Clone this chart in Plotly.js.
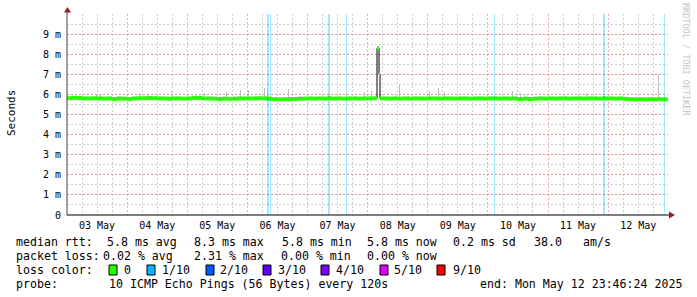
<!DOCTYPE html>
<html><head><meta charset="utf-8">
<script src="https://cdn.plot.ly/plotly-3.0.1.min.js"></script>
<style>html,body{margin:0;padding:0;background:#fff}#chart{width:697px;height:297px}</style>
</head><body><div id="chart"></div>
<script>
// ---- data (time in hours since 03 May 2025 00:00, latency in ms) ----
const dayLabels = ["03 May","04 May","05 May","06 May","07 May","08 May","09 May","10 May","11 May","12 May"];
const dayLabelHours = [12,36,60,84,108,132,156,180,204,228];
const medianStartHour = 0;
const medianStepHours = 2;
const medianMs = [
  5.81,5.83,5.82,5.80,5.80,5.81,5.80,5.79,5.80,5.77,5.80,5.79,
  5.77,5.80,5.81,5.81,5.82,5.81,5.80,5.80,5.78,5.80,5.80,5.79,
  5.80,5.83,5.82,5.80,5.80,5.79,5.77,5.79,5.78,5.79,5.80,5.80,
  5.80,5.80,5.81,5.80,5.79,5.76,5.75,5.76,5.76,5.77,5.79,5.79,
  5.80,5.79,5.80,5.79,5.80,5.79,5.80,5.79,5.80,5.80,5.79,5.80,
  5.80,5.81,5.80,5.80,5.79,5.80,5.79,5.80,5.79,5.80,5.80,5.79,
  5.80,5.80,5.79,5.80,5.80,5.79,5.80,5.80,5.79,5.80,5.80,5.79,
  5.80,5.80,5.79,5.80,5.79,5.80,5.77,5.79,5.77,5.79,5.80,5.79,
  5.80,5.79,5.80,5.80,5.79,5.80,5.80,5.79,5.80,5.80,5.79,5.80,
  5.80,5.79,5.80,5.78,5.76,5.75,5.76,5.75,5.76,5.75,5.76,5.75
];
const spikeHours = [123.75, 124.55, 124.95];
const spikeMs = [8.3, 7.0, 5.80];
const endHour = 239.77;
const smokeHours = [11.86,13.45,28.86,32.46,41.72,52.7,54.69,63.67,69.06,72.38,78.76,80.12,88.34,104.31,111.58,118.56,121.64,132.65,136.25,144.63,148.22,150.5,177.92,180.84,207.19,236.05];
const smokeMaxMs = [6.02,5.99,6.06,5.98,6.15,6.0,6.05,6.12,6.24,6.22,6.3,6.3,6.27,6.05,6.05,6.13,6.18,6.47,5.92,6.18,6.3,6.13,6.18,6.05,6.05,6.97];
const lossHours = [80.05,80.45,81.3,104.4,104.8,111.65,170.6,214.2,214.6,238.4];
const lossFraction = [0.1,0.1,0.1,0.1,0.1,0.1,0.1,0.1,0.1,0.1];
const yTickVals = [0,1,2,3,4,5,6,7,8,9];
const yTickText = ["0","1 m","2 m","3 m","4 m","5 m","6 m","7 m","8 m","9 m"];
const lossLegendLabels = ["0","1/10","2/10","3/10","4/10","5/10","9/10"];
const lossLegendColors = ["#26ff00","#00b8ff","#0059ff","#5e00ff","#7e00ff","#dd00ff","#ff0000"];
const statsRtt = ["median rtt:","5.8 ms avg","8.3 ms max","5.8 ms min","5.8 ms now","0.2 ms sd","38.0","am/s"];
const statsLoss = ["packet loss:","0.02 % avg","2.31 % max","0.00 % min","0.00 % now"];
const probeText = ["probe:","10 ICMP Echo Pings (56 Bytes) every 120s","end: Mon May 12 23:46:24 2025"];

// ---- build merged median series ----
let pts = [];
medianMs.forEach((v,i)=>{
  const t = medianStartHour + i*medianStepHours;
  if (!(t >= spikeHours[0] && t < spikeHours[spikeHours.length-1])) pts.push([t,v]);
});
spikeHours.forEach((t,i)=>pts.push([t,spikeMs[i]]));
pts.sort((a,b)=>a[0]-b[0]);
pts.push([endHour, pts[pts.length-1][1]]);
function medianAt(h){ let v = pts[0][1]; for (const p of pts){ if (p[0] <= h) v = p[1]; } return v; }

const segX = [], segY = [];
for (let i=0;i<pts.length-1;i++){ segX.push(pts[i][0], pts[i+1][0], null); segY.push(pts[i][1], pts[i][1], null); }

const YMAX = 10;
const MONO = "DejaVu Sans Mono";
const traces = [
  { type:'bar', x: lossHours, y: lossHours.map(()=>YMAX), width: 0.4, marker:{color:'rgba(0,184,255,0.35)', line:{width:0}}, hoverinfo:'skip' },
  { type:'bar', x: smokeHours, base: smokeHours.map(h=>medianAt(h)), y: smokeHours.map((h,i)=>smokeMaxMs[i]-medianAt(h)), width: 0.4, marker:{color:'#bdbdbd', line:{width:0}}, hoverinfo:'skip' },
  { type:'scatter', mode:'lines', x: pts.map(p=>p[0]), y: pts.map(p=>p[1]), line:{color:'#000', width:1, shape:'hv'}, hoverinfo:'skip' },
  { type:'scatter', mode:'lines', x: segX, y: segY, line:{color:'#26ff00', width:4}, connectgaps:false, hoverinfo:'skip' },
  { type:'bar', x: lossHours, base: lossHours.map(h=>medianAt(h)-0.1), y: lossHours.map(()=>0.2), width:0.4, marker:{color:'#00b8ff', line:{width:0}}, hoverinfo:'skip' },
  { type:'scatter', x: [], y: [], xaxis:'x2', hoverinfo:'skip' }
];

// pixel -> paper helpers for decorations
const L=67, T=14, W=601, H=201;
const PX = px => (px-L)/W, PY = py => (T+H-py)/H;
const annotations = [];
function txt(text, px, py, size, anchor, extra){
  annotations.push(Object.assign({text, xref:'paper', yref:'paper', x:PX(px), y:PY(py), xanchor:anchor||'left', yanchor:'middle', showarrow:false, borderpad:0, font:{family:MONO, size:size||11.6, color:'#000'}}, extra||{}));
}
const rttX = [15,106,193,281,366,452,533,582];
statsRtt.forEach((s,i)=>txt(s, rttX[i], 242));
const lossX = [15,102,193,280,366];
statsLoss.forEach((s,i)=>txt(s, lossX[i], 256));
txt("loss color:", 15, 270);
const sqX = [109,147,206,263,321,380,437];
const lblX = [123,161,219,277,335,393,452];
const shapes = [];
lossLegendLabels.forEach((s,i)=>{
  txt(s, lblX[i], 270);
  shapes.push({type:'rect', xref:'paper', yref:'paper', x0:PX(sqX[i]), x1:PX(sqX[i]+8), y0:PY(275), y1:PY(265), fillcolor:lossLegendColors[i], line:{color:'#000', width:1}});
});
txt(probeText[0], 15, 284);
txt(probeText[1], 108, 284);
txt(probeText[2], 683, 284, 11.6, 'right');
txt("Seconds", 11, 113, 11, 'center', {textangle:-90});
txt("RRDTOOL / TOBI OETIKER", 686, 59, 8.5, 'center', {textangle:90, font:{family:MONO, size:8.5, color:'#c4c4c4'}});

// axis lines and arrows
shapes.push({type:'line', xref:'paper', yref:'paper', x0:PX(67), x1:PX(67), y0:PY(215), y1:PY(11), line:{color:'#444', width:1}});
shapes.push({type:'line', xref:'paper', yref:'paper', x0:PX(67), x1:PX(670), y0:PY(215), y1:PY(215), line:{color:'#000', width:1}});
shapes.push({type:'path', xref:'paper', yref:'paper', path:`M ${PX(64)} ${PY(12.5)} L ${PX(67.5)} ${PY(7)} L ${PX(71)} ${PY(12.5)} Z`, fillcolor:'#9b1c1c', line:{width:0}});
shapes.push({type:'path', xref:'paper', yref:'paper', path:`M ${PX(669)} ${PY(211.5)} L ${PX(675)} ${PY(215)} L ${PX(669)} ${PY(218.5)} Z`, fillcolor:'#9b1c1c', line:{width:0}});

const majorGrid = 'rgba(225,100,100,0.55)';
const minorGrid = 'rgba(160,160,160,0.5)';
const layout = {
  width:697, height:297,
  margin:{l:L, r:697-L-W, t:T, b:297-T-H, pad:0},
  paper_bgcolor:'#fff', plot_bgcolor:'#fff',
  showlegend:false, barmode:'overlay', bargap:0,
  xaxis:{range:[0,239.9], tick0:0, dtick:24, showticklabels:false, ticks:'', showgrid:true, gridcolor:majorGrid, griddash:'2px,2px', gridwidth:1, zeroline:false, showline:false,
         minor:{tick0:0, dtick:6, showgrid:true, gridcolor:minorGrid, griddash:'2px,2px', gridwidth:1, ticks:''}, fixedrange:true},
  xaxis2:{overlaying:'x', anchor:'y', side:'bottom', range:[0,239.9], tickmode:'array', tickvals:dayLabelHours, ticktext:dayLabels, showgrid:false, zeroline:false, showline:false, ticks:'', ticklabelstandoff:3, tickfont:{family:MONO, size:10, color:'#000'}},
  yaxis:{range:[0,YMAX], tickmode:'array', tickvals:yTickVals, ticktext:yTickText, showgrid:true, gridcolor:majorGrid, griddash:'2px,2px', gridwidth:1, zeroline:false, showline:false, ticks:'', ticklabelstandoff:5,
         tickfont:{family:MONO, size:10, color:'#000'}, minor:{tick0:0, dtick:0.5, showgrid:true, gridcolor:minorGrid, griddash:'2px,2px', gridwidth:1, ticks:''}, fixedrange:true},
  shapes, annotations
};
Plotly.newPlot('chart', traces, layout, {displayModeBar:false, staticPlot:true});
</script></body></html>
